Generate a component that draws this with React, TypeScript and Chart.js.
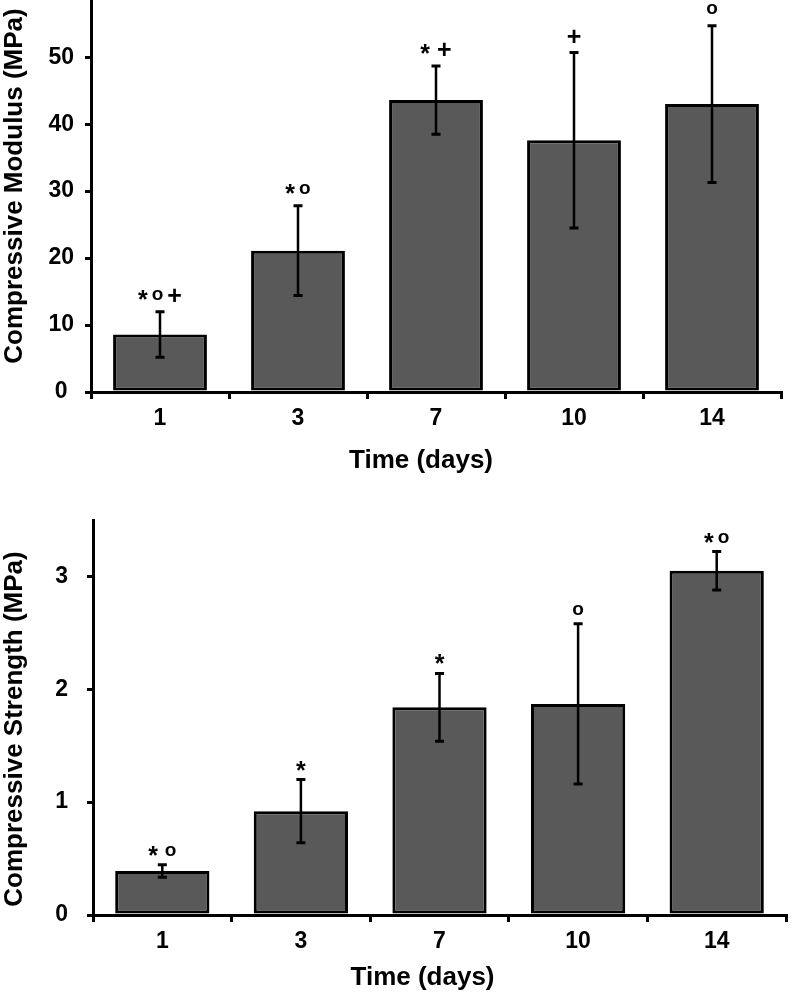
import React, { useEffect, useRef } from 'react';
import { Chart, registerables } from 'chart.js';

Chart.register(...registerables);

const categories = ['1', '3', '7', '10', '14'];

const modulusMean = [8.6, 21.1, 43.6, 37.6, 43.0];
const modulusErr = [3.4, 6.7, 5.1, 13.1, 11.7];
const modulusMarks = ['*o+', '*o', '* +', '+', 'o'];
const modulusTickStep = 10;

const strengthMean = [0.39, 0.92, 1.84, 1.87, 3.05];
const strengthErr = [0.055, 0.28, 0.3, 0.71, 0.17];
const strengthMarks = ['* o', '*', '*', 'o', '*o'];
const strengthTickStep = 1;

const FONT = '"Liberation Sans", Arial, Helvetica, sans-serif';
const BAR_FILL = '#595959';

const errorBarPlugin = {
  id: 'errorBars',
  afterDatasetsDraw(chart: any, _args: any, opts: any) {
    const { ctx } = chart;
    const yScale = chart.scales.y;
    const meta = chart.getDatasetMeta(0);
    ctx.save();
    ctx.strokeStyle = '#000';
    ctx.fillStyle = '#000';
    meta.data.forEach((bar: any, i: number) => {
      const m = opts.means[i];
      const e = opts.errs[i];
      const x = bar.x;
      const yHi = yScale.getPixelForValue(m + e);
      const yLo = yScale.getPixelForValue(m - e);
      ctx.lineWidth = 2.5;
      ctx.beginPath();
      ctx.moveTo(x, yHi);
      ctx.lineTo(x, yLo);
      ctx.stroke();
      ctx.lineWidth = 3;
      ctx.beginPath();
      ctx.moveTo(x - 4.5, yHi);
      ctx.lineTo(x + 4.5, yHi);
      ctx.moveTo(x - 4.5, yLo);
      ctx.lineTo(x + 4.5, yLo);
      ctx.stroke();

      // significance marks
      const mark: string = opts.marks[i] || '';
      const chars = mark.split('');
      const fontFor = (c: string) => (c === 'o' ? `bold 19px ${FONT}` : `bold 25px ${FONT}`);
      const dyFor = (c: string) => (c === 'o' ? -4 : c === '*' ? 4 : 0);
      const sp = 4;
      let total = 0;
      const widths = chars.map((c) => {
        ctx.font = fontFor(c);
        const w = ctx.measureText(c).width;
        total += w;
        return w;
      });
      const gaps = chars.map((c, k) => (k > 0 && c !== ' ' && chars[k - 1] !== ' ' ? sp : 0));
      gaps.forEach((g) => (total += g));
      let cx = x - total / 2;
      const base = yHi - opts.gap;
      ctx.textAlign = 'left';
      ctx.textBaseline = 'alphabetic';
      chars.forEach((c, k) => {
        cx += gaps[k];
        ctx.font = fontFor(c);
        ctx.fillText(c, cx, base + dyFor(c));
        cx += widths[k];
      });
    });
    ctx.restore();
  },
};

const axisTitlePlugin = {
  id: 'axisTitles',
  afterDraw(chart: any, _args: any, opts: any) {
    const { ctx, chartArea } = chart;
    ctx.save();
    ctx.fillStyle = '#000';
    ctx.font = `bold 26px ${FONT}`;
    ctx.textAlign = 'center';
    ctx.textBaseline = 'middle';
    ctx.fillText(opts.x, (chartArea.left + chartArea.right) / 2 + opts.xDx, chartArea.bottom + opts.xDy);
    ctx.translate(opts.yX, (chartArea.top + chartArea.bottom) / 2 + opts.yDy);
    ctx.rotate(-Math.PI / 2);
    ctx.fillText(opts.y, 0, 0);
    ctx.restore();
  },
};

type PanelProps = {
  top: number;
  height: number;
  means: number[];
  errs: number[];
  marks: string[];
  yMax: number;
  step: number;
  yWidth: number;
  xHeight: number;
  padTop: number;
  padRight: number;
  tickPad: number;
  gap: number;
  yTitle: string;
  titles: { xDx: number; xDy: number; yX: number; yDy: number };
};

function BarPanel(p: PanelProps) {
  const ref = useRef<HTMLCanvasElement | null>(null);
  useEffect(() => {
    if (!ref.current) return;
    const tickFont = { family: FONT, size: 23, weight: 'bold' as const };
    const chart = new Chart(ref.current, {
      type: 'bar',
      data: {
        labels: categories,
        datasets: [
          {
            data: p.means,
            backgroundColor: BAR_FILL,
            borderColor: '#000',
            borderWidth: 3,
            borderSkipped: false,
            barPercentage: 0.68,
            categoryPercentage: 1,
          },
        ],
      },
      options: {
        responsive: false,
        animation: false,
        devicePixelRatio: 1,
        layout: { padding: { top: p.padTop, right: p.padRight, left: 0, bottom: 0 } },
        plugins: {
          legend: { display: false },
          tooltip: { enabled: false },
          errorBars: { means: p.means, errs: p.errs, marks: p.marks, gap: p.gap },
          axisTitles: { x: 'Time (days)', y: p.yTitle, ...p.titles },
        } as any,
        scales: {
          x: {
            offset: true,
            grid: { offset: true, drawOnChartArea: false, drawTicks: true, tickLength: 7, color: '#000', lineWidth: 3 },
            border: { display: true, color: '#000', width: 3 },
            ticks: { font: tickFont, color: '#000', padding: 6, maxRotation: 0 },
            afterFit: (s: any) => {
              s.height = p.xHeight;
              s.paddingLeft = 0;
              s.paddingRight = 0;
            },
          },
          y: {
            min: 0,
            max: p.yMax,
            grid: { drawOnChartArea: false, drawTicks: true, tickLength: 6, color: '#000', lineWidth: 3 },
            border: { display: true, color: '#000', width: 3 },
            ticks: {
              stepSize: p.step,
              includeBounds: false,
              font: tickFont,
              color: '#000',
              padding: p.tickPad,
              crossAlign: 'center',
            },
            afterFit: (s: any) => {
              s.width = p.yWidth;
              s.paddingTop = 0;
              s.paddingBottom = 0;
            },
          },
        },
      },
      plugins: [errorBarPlugin, axisTitlePlugin],
    });
    return () => chart.destroy();
  }, []);
  return (
    <canvas
      ref={ref}
      width={792}
      height={p.height}
      style={{ position: 'absolute', left: 0, top: p.top, width: 792, height: p.height }}
    />
  );
}

export default function App() {
  return (
    <div style={{ position: 'absolute', left: 0, top: 0, width: 792, height: 994, background: '#fff', overflow: 'hidden' }}>
      <BarPanel
        top={0}
        height={500}
        means={modulusMean}
        errs={modulusErr}
        marks={modulusMarks}
        yMax={58.4}
        step={modulusTickStep}
        yWidth={91}
        xHeight={108}
        padTop={1}
        padRight={11}
        tickPad={11}
        gap={8}
        yTitle="Compressive Modulus (MPa)"
        titles={{ xDx: -15, xDy: 69, yX: 15, yDy: -10.5 }}
      />
      <BarPanel
        top={500}
        height={494}
        means={strengthMean}
        errs={strengthErr}
        marks={strengthMarks}
        yMax={3.5}
        step={strengthTickStep}
        yWidth={93}
        xHeight={79}
        padTop={20}
        padRight={6}
        tickPad={19}
        gap={5}
        yTitle="Compressive Strength (MPa)"
        titles={{ xDx: -17, xDy: 63, yX: 15, yDy: 11.5 }}
      />
    </div>
  );
}
